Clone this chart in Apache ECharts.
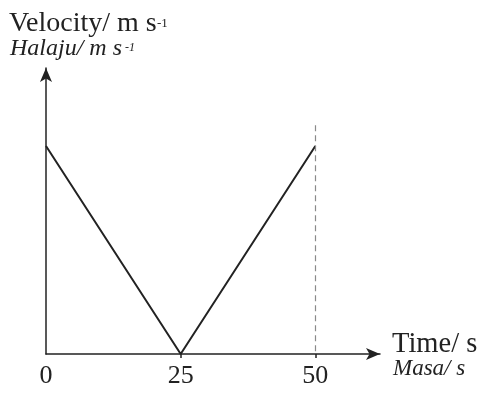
<!DOCTYPE html>
<html>
<head>
<meta charset="utf-8">
<style>
  html, body { margin: 0; padding: 0; background: #ffffff; }
  #chart { width: 480px; height: 393px; }
</style>
<script src="https://cdn.jsdelivr.net/npm/echarts@6/dist/echarts.min.js"></script>
</head>
<body>
<div id="chart"></div>
<script>
// Velocity–time graph: decelerates to rest at 25 s, then speeds back up by 50 s
var timeValues = [0, 25, 50];
var velocityValues = [10, 0, 10];
var xTickLabels = [0, 25, 50];
var xTickMarks = [25, 50];
var markerTime = 50;        // dashed guide at the end of the motion
var markerTop = 11;         // upper end of the dashed guide
var xMax = 62;
var yMax = 13.75;

var serif = 'Liberation Serif';
var ink = '#222222';

var points = timeValues.map(function (t, i) { return [t, velocityValues[i]]; });

var chart = echarts.init(document.getElementById('chart'), null, { renderer: 'canvas' });

chart.setOption({
  backgroundColor: '#ffffff',
  animation: false,
  grid: { left: 46, right: 100, top: 68, bottom: 39 },
  xAxis: {
    type: 'value',
    min: 0,
    max: xMax,
    splitLine: { show: false },
    axisLine: {
      show: true,
      symbol: ['none', 'arrow'],
      symbolSize: [9, 14],
      lineStyle: { color: ink, width: 1.5 }
    },
    axisTick: {
      show: true,
      customValues: xTickMarks,
      length: 4,
      lineStyle: { color: ink, width: 1.5 }
    },
    axisLabel: {
      customValues: xTickLabels,
      fontFamily: serif,
      fontSize: 26,
      color: ink,
      margin: 9
    }
  },
  yAxis: {
    type: 'value',
    min: 0,
    max: yMax,
    splitLine: { show: false },
    axisTick: { show: false },
    axisLabel: { show: false },
    axisLine: {
      show: true,
      symbol: ['none', 'arrow'],
      symbolSize: [9, 14],
      lineStyle: { color: ink, width: 1.5 }
    }
  },
  series: [{
    type: 'line',
    data: points,
    symbol: 'none',
    lineStyle: { color: ink, width: 2 },
    markLine: {
      silent: true,
      symbol: ['none', 'none'],
      label: { show: false },
      lineStyle: { color: '#8a8a8a', type: [6, 4], width: 1.2 },
      data: [[{ coord: [markerTime, markerTop] }, { coord: [markerTime, 0] }]]
    }
  }],
  graphic: [
    { type: 'text', left: 9, top: 10,
      style: { text: 'Velocity/ m s', font: '28px ' + serif, fill: ink } },
    { type: 'text', left: 157, top: 17,
      style: { text: '-1', font: '13px ' + serif, fill: ink } },
    { type: 'text', left: 10, top: 37,
      style: { text: 'Halaju/ m s', font: 'italic 24px ' + serif, fill: ink } },
    { type: 'text', left: 125, top: 42,
      style: { text: '-1', font: 'italic 12px ' + serif, fill: ink } },
    { type: 'text', left: 392, top: 330,
      style: { text: 'Time/ s', font: '28.5px ' + serif, fill: ink } },
    { type: 'text', left: 393, top: 357,
      style: { text: 'Masa/ s', font: 'italic 23px ' + serif, fill: ink } }
  ]
});
</script>
</body>
</html>
